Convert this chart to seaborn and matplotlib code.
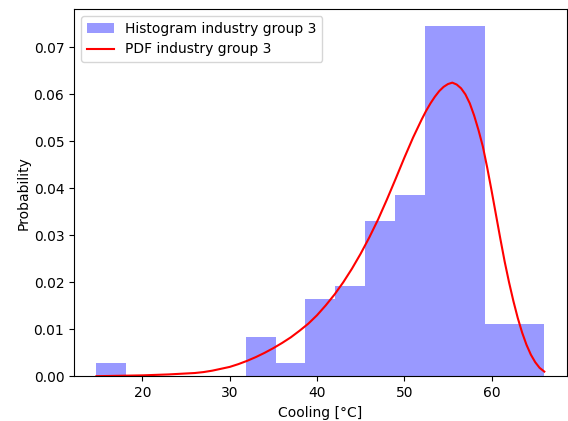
import numpy as np
import pandas as pd
import matplotlib
matplotlib.use("Agg")
import matplotlib.pyplot as plt
import seaborn as sns

# Cooling temperatures for industry group 3: 15 equal-width bins and their counts
bin_lo, bin_hi, n_bins = 14.72, 66.04, 15
counts = [1, 0, 0, 0, 0, 3, 1, 6, 7, 12, 14, 27, 27, 4, 4]

# Fitted probability density, sampled along the temperature axis
pdf_x = [14.72, 17.0, 20.0, 23.0, 26.0, 27.0, 28.0, 29.0, 30.0, 31.0, 32.0,
         33.0, 34.0, 35.0, 36.0, 37.0, 38.0, 39.0, 40.0, 41.0, 42.0, 43.0,
         44.0, 45.0, 46.0, 47.0, 48.0, 49.0, 50.0, 51.0, 52.0, 52.5, 53.0,
         53.5, 54.0, 54.5, 55.0, 55.5, 56.0, 56.5, 57.0, 57.5, 58.0, 58.5,
         59.0, 59.5, 60.0, 60.5, 61.0, 61.5, 62.0, 62.5, 63.0, 63.5, 64.0,
         64.5, 65.0, 65.5, 66.04]
pdf_y = [0.00002, 0.0001, 0.0002, 0.0004, 0.0007, 0.0009, 0.0012, 0.0016,
         0.0020, 0.0026, 0.0033, 0.0041, 0.0050, 0.0060, 0.0071, 0.0083,
         0.0097, 0.0112, 0.0130, 0.0151, 0.0174, 0.0200, 0.0229, 0.0261,
         0.0296, 0.0334, 0.0376, 0.0420, 0.0465, 0.0508, 0.0547, 0.0565,
         0.0581, 0.0595, 0.0607, 0.0616, 0.0622, 0.0625, 0.0621, 0.0613,
         0.0600, 0.0581, 0.0555, 0.0524, 0.0489, 0.0444, 0.0395, 0.0344,
         0.0293, 0.0244, 0.0200, 0.0160, 0.0124, 0.0093, 0.0067, 0.0046,
         0.0030, 0.0018, 0.0010]

edges = np.linspace(bin_lo, bin_hi, n_bins + 1)
hist_df = pd.DataFrame({"cooling": (edges[:-1] + edges[1:]) / 2,
                        "count": counts})

fig = plt.figure(figsize=(5.68, 4.21), dpi=100)
ax = fig.add_axes([74 / 568, 1 - 376.3 / 421, 492.7 / 568, 367.3 / 421])

sns.histplot(data=hist_df, x="cooling", weights="count",
             bins=n_bins, binrange=(bin_lo, bin_hi), stat="density",
             color="blue", alpha=0.4, edgecolor="none", linewidth=0,
             label="Histogram industry group 3", ax=ax)
sns.lineplot(x=pdf_x, y=pdf_y, color="red", linewidth=1.5,
             label="PDF industry group 3", ax=ax)

ax.margins(x=0.05, y=0.05)
ax.set_xlabel("Cooling [°C]")
ax.set_ylabel("Probability", labelpad=2)

# histogram entry first, then the density curve
handles, labels = ax.get_legend_handles_labels()
order = sorted(range(len(labels)), key=lambda i: not labels[i].startswith("Histogram"))
ax.legend([handles[i] for i in order], [labels[i] for i in order], loc="upper left")

fig.savefig("out.png", dpi=100)
